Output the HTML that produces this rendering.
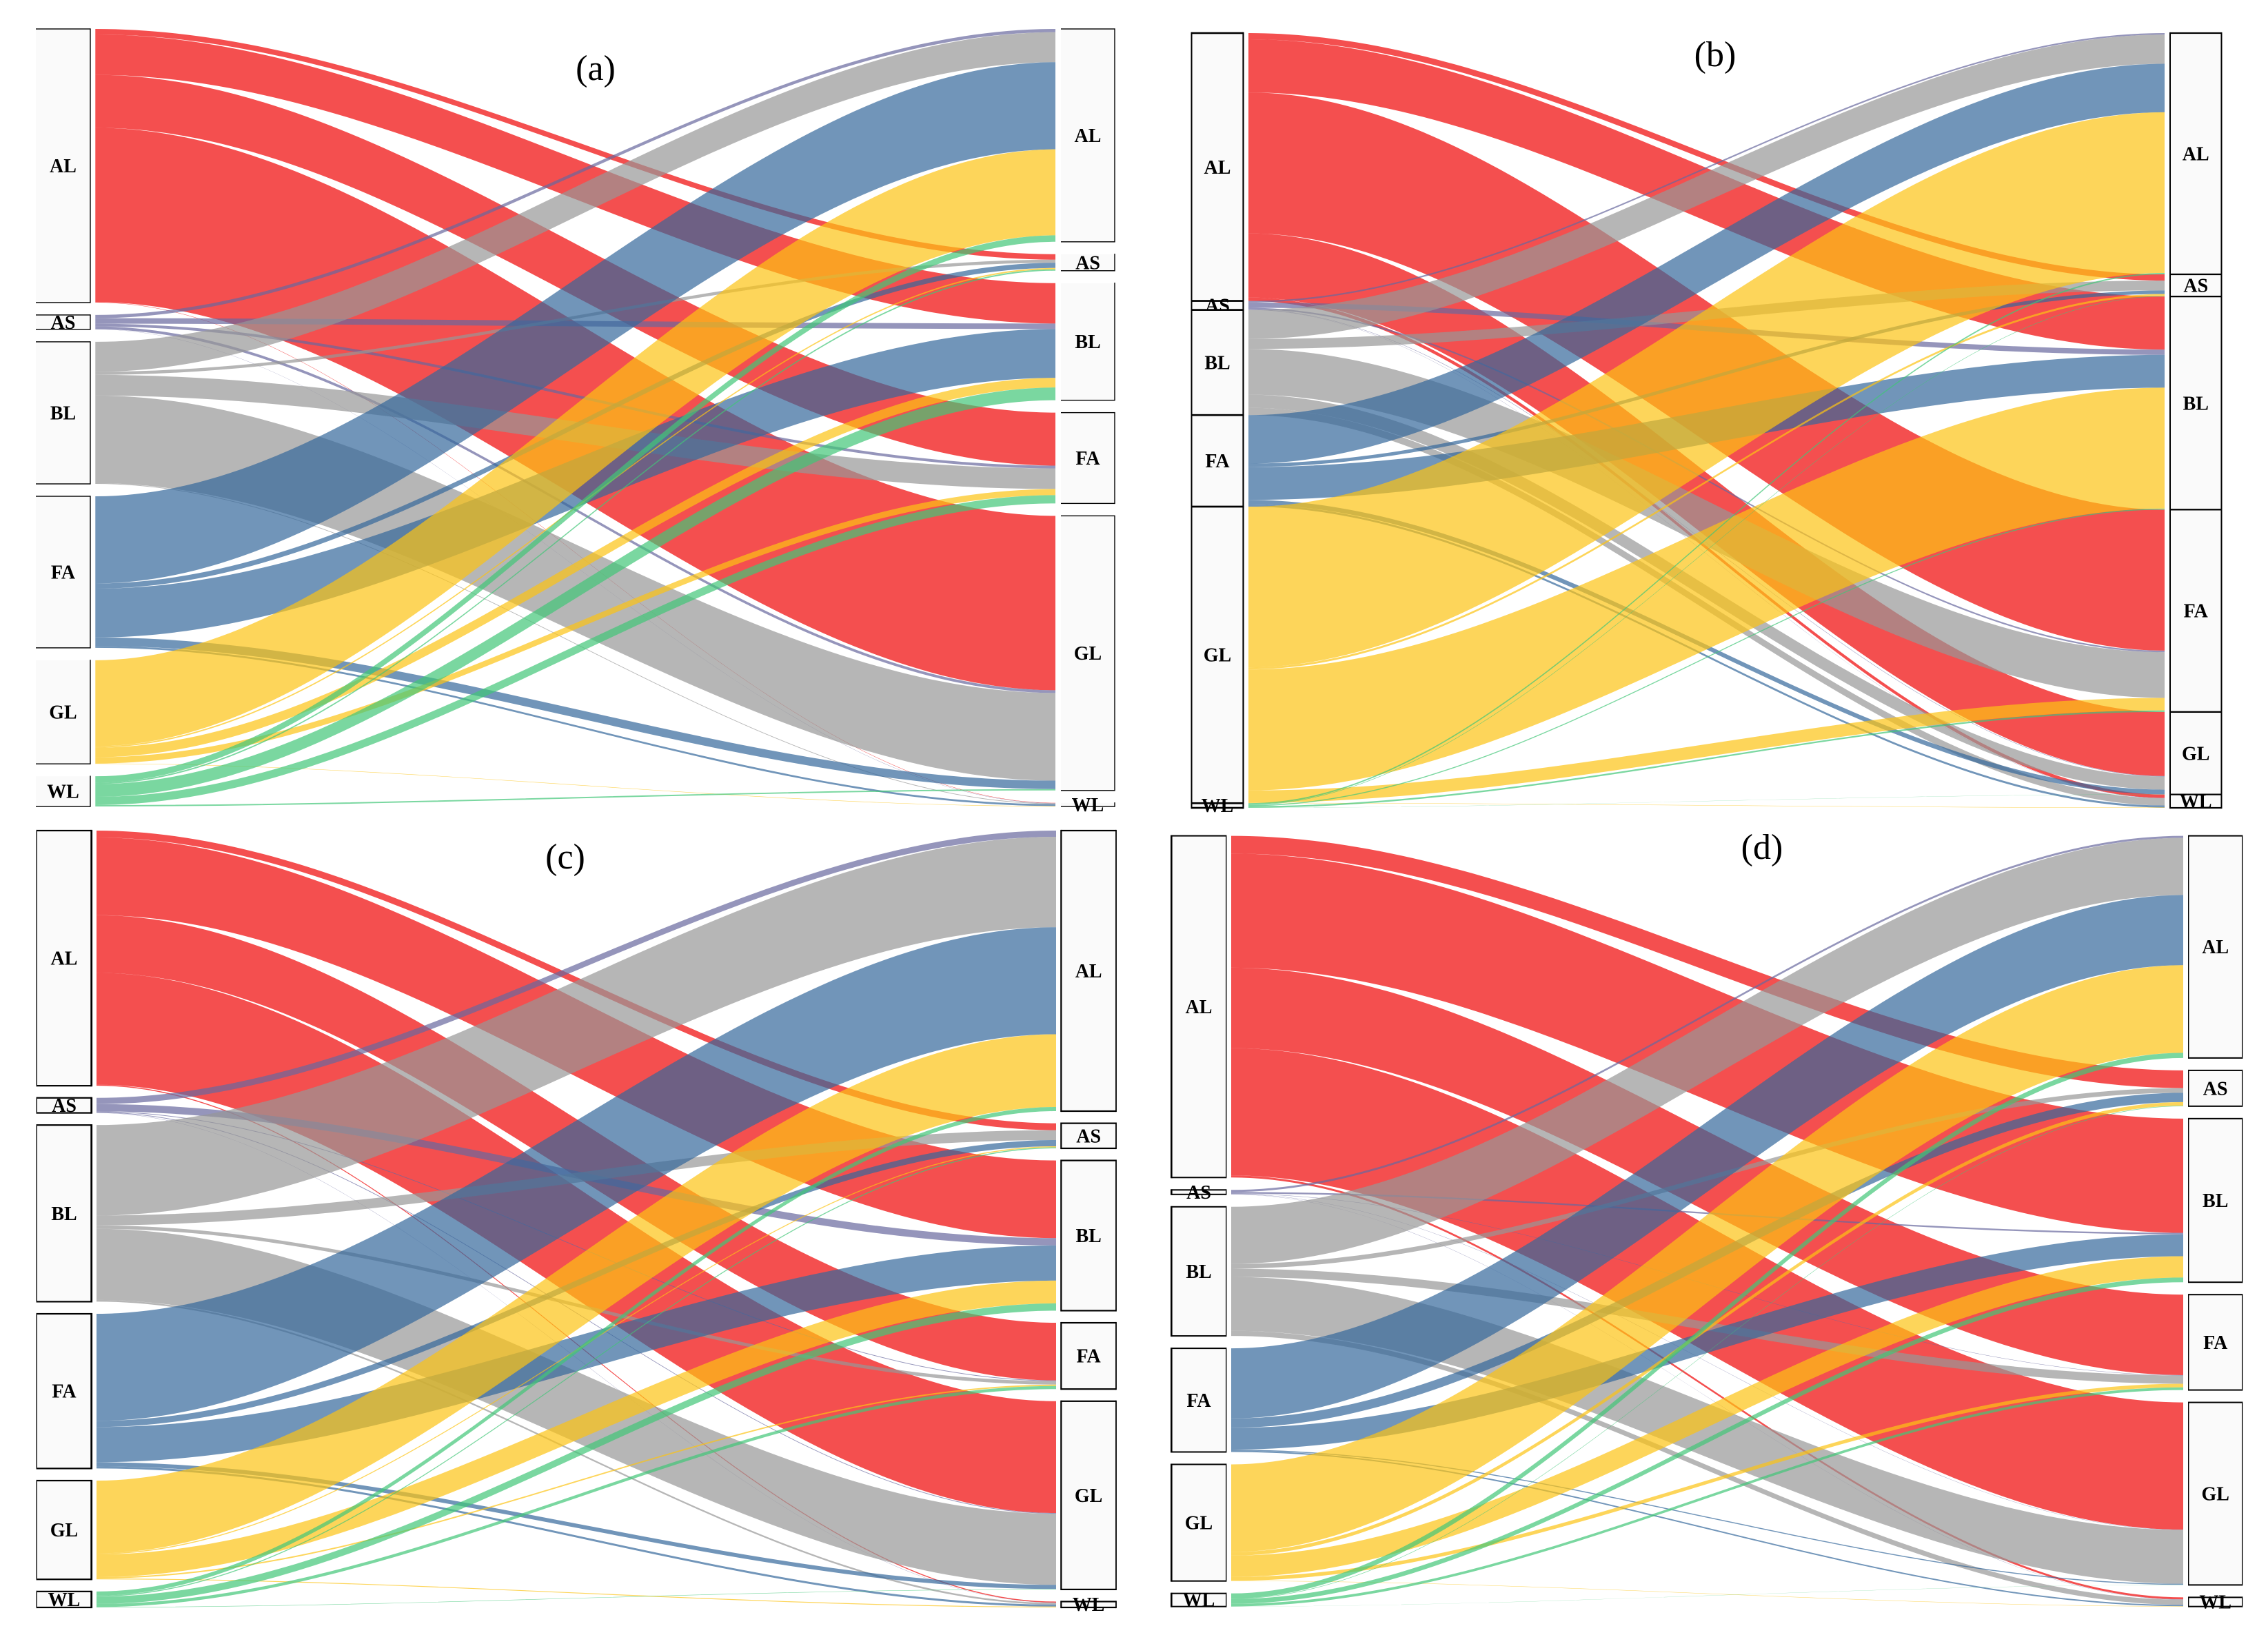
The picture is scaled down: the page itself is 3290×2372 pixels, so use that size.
<!DOCTYPE html>
<html lang="en">
<head>
<meta charset="utf-8">
<title>Land cover transition Sankey diagrams</title>
<style>
html,body{margin:0;padding:0;background:#fff;}
#chart{display:block;position:absolute;left:0;top:0;}
text{font-family:"Liberation Serif",serif;fill:#000;}
</style>
</head>
<body>
<svg id="chart" xmlns="http://www.w3.org/2000/svg" width="3290" height="2372" viewBox="0 0 3290 2372">
<rect width="3290" height="2372" fill="#ffffff"/>
<g id="layer"></g>
<text x="864" y="116" font-size="52" text-anchor="middle">(a)</text>
<text x="2488" y="96" font-size="52" text-anchor="middle">(b)</text>
<text x="820" y="1260" font-size="52" text-anchor="middle">(c)</text>
<text x="2556" y="1246" font-size="52" text-anchor="middle">(d)</text>
</svg>
<script>
// Land-cover classes (row = from class on the left, column = to class on the right)
const classes = ['AL','AS','BL','FA','GL','WL'];
const classColors = ['#f00404','#68689e','#979797','#35689b','#fcc314','#41c677'];

// Panel (a) transitions
const aFromAL = [0,8,58.7,77,253.5,0.5];
const aFromAS = [4.7,0,8,4,4,0.3];
const aFromBL = [43.6,4.5,0,30,127.4,1];
const aFromFA = [126.7,7.5,71,0,12.3,2.8];
const aFromGL = [125,2,14,9,0,0.6];
const aFromWL = [9.4,2,18.5,12,2,0];

// Panel (b) transitions
const bFromAL = [0,9,76.7,203.5,92.5,5];
const bFromAS = [2.3,0,7.5,2.3,0.6,0.3];
const bFromBL = [42,14.3,0,66,19,10.5];
const bFromFA = [70,5,47.4,0,6.8,3];
const bFromGL = [232,3,174.6,18,0,0.5];
const bFromWL = [2,0.7,1.5,2.3,0.2,0];

// Panel (c) transitions
const cFromAL = [0,10,112.5,83.5,162,1.5];
const cFromAS = [9,0,10.5,1,1,0.3];
const cFromBL = [131,14.3,0,5,103,2.5];
const cFromFA = [155,9,51,0,6,3];
const cFromGL = [105.3,1.5,33,2,0,1.2];
const cFromWL = [6,1.5,10.5,4.5,0.6,0];

// Panel (d) transitions
const dFromAL = [0,25.6,165.5,116.6,184.4,3];
const dFromAS = [3,0,2.3,0.5,0.4,0.3];
const dFromBL = [82.8,6.8,0,12,78,7.5];
const dFromFA = [101.6,13.5,31.6,0,1.5,2];
const dFromGL = [127,5.3,30.9,5.3,0,0.5];
const dFromWL = [7.5,0.7,6.8,3.8,0.2,0];

const panels = [
  {id:'a',rows:[aFromAL,aFromAS,aFromBL,aFromFA,aFromGL,aFromWL],top:42,bottom:1170,gap:18,
   lx0:52,lx1:131,fx0:138.3,fx1:1531,rx0:1539,rx1:1617,
   lSides:[1.4,1.4,1.4,0],rSides:[1.4,1.4,1.4,0],lNoTop:[4,5],rNoTop:[1,2,5]},
  {id:'b',rows:[bFromAL,bFromAS,bFromBL,bFromFA,bFromGL,bFromWL],top:48,bottom:1172,gap:0,
   lx0:1728.5,lx1:1803.5,fx0:1811,fx1:3140,rx0:3148,rx1:3222.5,
   lSides:[2.6,2.2,2.6,2],rSides:[2.2,2,2.2,2],lNoTop:[],rNoTop:[]},
  {id:'c',rows:[cFromAL,cFromAS,cFromBL,cFromFA,cFromGL,cFromWL],top:1205,bottom:2332,gap:17.6,
   lx0:53.3,lx1:132.7,fx0:140,fx1:1532,rx0:1539.3,rx1:1619,
   lSides:[2.2,2.8,2.2,1.4],rSides:[2.2,1.8,2.2,2.2],lNoTop:[],rNoTop:[]},
  {id:'d',rows:[dFromAL,dFromAS,dFromBL,dFromFA,dFromGL,dFromWL],top:1212.6,bottom:2330.7,gap:18,
   lx0:1699.3,lx1:1778.7,fx0:1786,fx1:3167,rx0:3174.7,rx1:3252.7,
   lSides:[2,1.4,2,2.6],rSides:[2,1.4,2,1.4],lNoTop:[],rNoTop:[]}
];

const SVGNS = 'http://www.w3.org/2000/svg';
const layer = document.getElementById('layer');

function sum(a){return a.reduce(function(s,v){return s+v;},0);}
function rowTotal(rows,i){return sum(rows[i]);}
function colTotal(rows,j){return sum(rows.map(function(r){return r[j];}));}

// Vertical axis: converts a value to a pixel length for a panel
function makeScale(p){
  var total = sum(p.rows.map(sum));
  var k = (p.bottom - p.top - p.gap*(classes.length-1)) / total;
  return function(v){return v*k;};
}

function edgeRect(parent,x,y,w,h){
  var r = document.createElementNS(SVGNS,'rect');
  r.setAttribute('x',x);r.setAttribute('y',y);r.setAttribute('width',w);r.setAttribute('height',h);
  r.setAttribute('fill','#000');
  parent.appendChild(r);
}

function drawNode(parent,p,side,i,x0,x1,y0,y1,sides,noTop){
  var g = document.createElementNS(SVGNS,'g');
  
  
  var r = document.createElementNS(SVGNS,'rect');
  r.setAttribute('x',x0);r.setAttribute('y',y0);r.setAttribute('width',x1-x0);r.setAttribute('height',Math.max(y1-y0,0.5));
  r.setAttribute('fill','#fafafa');
  g.appendChild(r);
  var t = document.createElementNS(SVGNS,'text');
  t.setAttribute('x',(x0+x1)/2);
  t.setAttribute('y',(y0+y1)/2+9.5);
  t.setAttribute('font-size','28');
  t.setAttribute('font-weight','bold');
  t.setAttribute('text-anchor','middle');
  t.textContent = classes[i];
  g.appendChild(t);
  if(sides[0] && noTop.indexOf(i)<0) edgeRect(g,x0,y0-sides[0]/2,x1-x0,sides[0]);
  if(sides[2]) edgeRect(g,x0,y1-sides[2]/2,x1-x0,sides[2]);
  if(sides[1]) edgeRect(g,x1-sides[1]/2,y0-sides[0]/2,sides[1],y1-y0+sides[0]/2+sides[2]/2);
  if(sides[3]) edgeRect(g,x0-sides[3]/2,y0-sides[0]/2,sides[3],y1-y0+sides[0]/2+sides[2]/2);
  parent.appendChild(g);
}

function drawPanel(p){
  var y = makeScale(p);
  var group = document.createElementNS(SVGNS,'g');
  
  
  layer.appendChild(group);

  // stacked starting offsets of each class on both axes
  var lTop = [], rTop = [], a = p.top, b = p.top;
  classes.forEach(function(c,i){
    lTop.push(a); a += y(rowTotal(p.rows,i)) + p.gap;
    rTop.push(b); b += y(colTotal(p.rows,i)) + p.gap;
  });

  classes.forEach(function(c,i){
    drawNode(group,p,'from',i,p.lx0,p.lx1,lTop[i],lTop[i]+y(rowTotal(p.rows,i)),p.lSides,p.lNoTop);
    drawNode(group,p,'to',i,p.rx0,p.rx1,rTop[i],rTop[i]+y(colTotal(p.rows,i)),p.rSides,p.rNoTop);
  });

  var lOff = lTop.slice(), rOff = rTop.slice();
  var c1 = p.fx0 + (p.fx1-p.fx0)/3, c2 = p.fx0 + (p.fx1-p.fx0)*2/3;
  p.rows.forEach(function(row,i){
    row.forEach(function(v,j){
      if(!(v>0)) return;
      var w = y(v);
      // the right-hand stack is ordered by source, so flows are laid in source order
      var y0 = lOff[i], y1 = rOff[j];
      lOff[i] += w; rOff[j] += w;
      var path = document.createElementNS(SVGNS,'path');
      path.setAttribute('d',
        'M'+p.fx0+','+y0+
        'C'+c1+','+y0+' '+c2+','+y1+' '+p.fx1+','+y1+
        'L'+p.fx1+','+(y1+w)+
        'C'+c2+','+(y1+w)+' '+c1+','+(y0+w)+' '+p.fx0+','+(y0+w)+'Z');
      path.setAttribute('fill',classColors[i]);
      path.setAttribute('fill-opacity','0.7');
      
      
      group.appendChild(path);
    });
  });
}

panels.forEach(drawPanel);
</script>
</body>
</html>
